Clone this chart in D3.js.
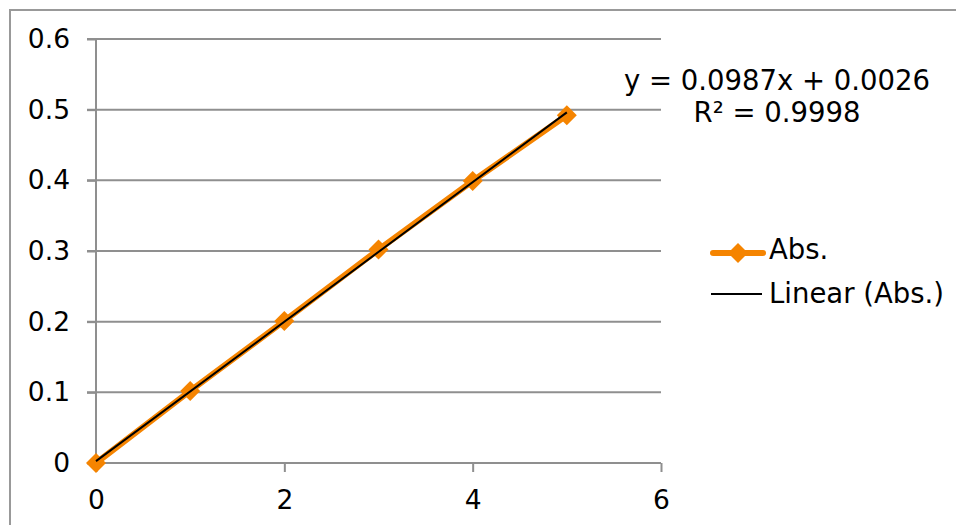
<!DOCTYPE html>
<html><head><meta charset="utf-8">
<script src="https://cdn.jsdelivr.net/npm/d3@7"></script>
<style>body{margin:0;background:#fff}svg{display:block}text{font-family:"DejaVu Sans",Verdana,sans-serif;fill:#000}</style>
</head><body>
<svg id="c" width="956" height="525"></svg>
<script>
const xValues = [0, 1, 2, 3, 4, 5];
const absValues = [0, 0.102, 0.201, 0.302, 0.399, 0.492];
const xTicks = [0, 2, 4, 6];
const yTicks = [0, 0.1, 0.2, 0.3, 0.4, 0.5, 0.6];
const slope = 0.0987, intercept = 0.0026;
const eqLabels = ["y = 0.0987x + 0.0026", "R² = 0.9998"];
const legendLabels = ["Abs.", "Linear (Abs.)"];

const svg = d3.select("#c");
const orange = "#F58400", grid = "#8f8f8f";
const x = d3.scaleLinear().domain([0, 6]).range([96, 661]);
const y = d3.scaleLinear().domain([0, 0.6]).range([463, 39]);

// chart border
svg.append("rect").attr("x", 10).attr("y", 10).attr("width", 960).attr("height", 530)
  .attr("fill", "none").attr("stroke", "#999").attr("stroke-width", 2);

// gridlines
svg.append("g").selectAll("line").data(yTicks.filter(d => d > 0)).join("line")
  .attr("x1", 87).attr("x2", 661).attr("y1", d => y(d)).attr("y2", d => y(d))
  .attr("stroke", grid).attr("stroke-width", 2);

// y axis
const yAxis = svg.append("g").attr("transform", `translate(${x(0)},0)`)
  .call(d3.axisLeft(y).tickValues(yTicks).tickSize(9).tickPadding(17).tickFormat(d => d === 0 ? "0" : d3.format(".1f")(d)));
// x axis
const xAxis = svg.append("g").attr("transform", `translate(0,${y(0)})`)
  .call(d3.axisBottom(x).tickValues(xTicks).tickSize(9).tickPadding(18).tickFormat(d3.format("d")));
[yAxis, xAxis].forEach(a => {
  a.select(".domain").attr("stroke", grid).attr("stroke-width", 2);
  a.selectAll(".tick line").attr("stroke", grid).attr("stroke-width", 2);
  a.selectAll("text").attr("font-size", 26.5).attr("font-family", '"DejaVu Sans",Verdana,sans-serif').attr("fill", "#000");
});
yAxis.select(".domain").attr("d", `M0,${y(0.6)}V${y(0)}`);
xAxis.select(".domain").attr("d", `M${x(0)},0H${x(6)}`);

// data line
const pts = xValues.map((v, i) => [v, absValues[i]]);
svg.append("path").datum(pts)
  .attr("d", d3.line().x(d => x(d[0])).y(d => y(d[1])))
  .attr("fill", "none").attr("stroke", orange).attr("stroke-width", 6).attr("stroke-linejoin", "round");
svg.append("g").selectAll("path").data(pts).join("path")
  .attr("d", "M0,-10L10,0L0,10L-10,0Z")
  .attr("transform", d => `translate(${x(d[0])},${y(d[1])})`)
  .attr("fill", orange);

// trendline
svg.append("line")
  .attr("x1", x(0)).attr("y1", y(intercept))
  .attr("x2", x(5)).attr("y2", y(slope * 5 + intercept))
  .attr("stroke", "#000").attr("stroke-width", 2);

// equation
svg.append("g").selectAll("text").data(eqLabels).join("text")
  .attr("x", 777).attr("y", (d, i) => 90 + i * 32)
  .attr("text-anchor", "middle").attr("font-size", 27.5).text(d => d);

// legend
const lg = svg.append("g");
lg.append("line").attr("x1", 713).attr("x2", 763).attr("y1", 253).attr("y2", 253)
  .attr("stroke", orange).attr("stroke-width", 6).attr("stroke-linecap", "round");
lg.append("path").attr("d", "M0,-10L10,0L0,10L-10,0Z").attr("transform", "translate(738,253)").attr("fill", orange);
lg.append("line").attr("x1", 711).attr("x2", 762).attr("y1", 294).attr("y2", 294)
  .attr("stroke", "#000").attr("stroke-width", 2);
lg.selectAll("text").data(legendLabels).join("text")
  .attr("x", 769).attr("y", (d, i) => 259 + i * 44)
  .attr("font-size", 27.5).text(d => d);
</script>
</body></html>
